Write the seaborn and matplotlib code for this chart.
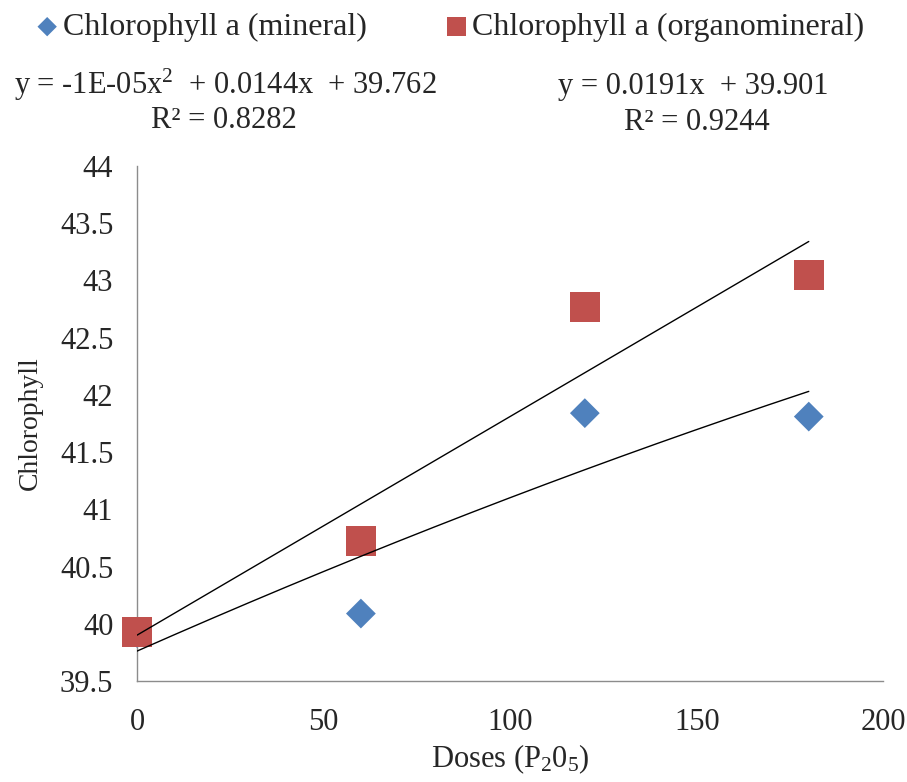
import numpy as np
import pandas as pd
import matplotlib
matplotlib.use("Agg")
import matplotlib.pyplot as plt
import seaborn as sns

# Data
doses = [0, 60, 120, 180]
mineral = [39.92, 40.09, 41.84, 41.81]
organomineral = [39.93, 40.72, 42.77, 43.05]

# Trendline coefficients as printed on the chart
quad_coef = [-1e-05, 0.0144, 39.762]
lin_coef = [0.0191, 39.901]

x_ticks = [0, 50, 100, 150, 200]
y_ticks = [39.5, 40, 40.5, 41, 41.5, 42, 42.5, 43, 43.5, 44]

blue = "#4F81BD"
red = "#C0504D"

sns.set_style("white")
plt.rcParams["font.family"] = ["Liberation Serif", "DejaVu Serif"]
plt.rcParams["mathtext.fontset"] = "custom"
plt.rcParams["mathtext.rm"] = "Liberation Serif"
plt.rcParams["mathtext.it"] = "Liberation Serif:italic"

fig = plt.figure(figsize=(9.07, 7.82), dpi=100)
ax = fig.add_axes([0.151, 0.129, 0.823, 0.659])

df_min = pd.DataFrame({"dose": doses, "chl": mineral})
df_org = pd.DataFrame({"dose": doses, "chl": organomineral})

sns.scatterplot(data=df_min, x="dose", y="chl", ax=ax, marker="D", s=230,
                color=blue, edgecolor="none", zorder=3, clip_on=False,
                label="Chlorophyll a (mineral)")
sns.scatterplot(data=df_org, x="dose", y="chl", ax=ax, marker="s", s=470,
                color=red, edgecolor="none", zorder=4, clip_on=False,
                label="Chlorophyll a (organomineral)")

# Trend lines
xs = np.linspace(0, 180, 200)
trend = pd.DataFrame({
    "x": xs,
    "quad": np.polyval(quad_coef, xs),
    "lin": np.polyval(lin_coef, xs),
})
sns.lineplot(data=trend, x="x", y="quad", ax=ax, color="black", lw=1, zorder=5)
sns.lineplot(data=trend, x="x", y="lin", ax=ax, color="black", lw=1, zorder=5)

ax.set_xlim(0, 200)
ax.set_ylim(39.5, 44)
ax.set_xticks(x_ticks)
ax.set_yticks(y_ticks)
ax.set_xticklabels([str(t) for t in x_ticks])
ax.set_yticklabels([f"{t:g}" for t in y_ticks])
ax.tick_params(axis="both", labelsize=22, length=0)
ax.tick_params(axis="x", pad=19)
ax.tick_params(axis="y", pad=17)

for side in ["top", "right"]:
    ax.spines[side].set_visible(False)
for side in ["left", "bottom"]:
    ax.spines[side].set_color("#8c8c8c")
    ax.spines[side].set_linewidth(1)

ax.set_xlabel("Doses (P$_2$0$_5$)", fontsize=22, labelpad=4)
ax.set_ylabel("Chlorophyll", fontsize=20, labelpad=12)

# Legend on top
handles, labels = ax.get_legend_handles_labels()
ax.legend_.remove()
fig.legend(handles, labels, loc="center", bbox_to_anchor=(0.485, 0.965),
           ncol=2, frameon=False, fontsize=23, handletextpad=-0.5,
           columnspacing=1.8, markerscale=0.65)

# Equations
fig.text(0.248, 0.891, "y = -1E-05x$^2$  + 0.0144x  + 39.762", fontsize=22,
         ha="center", va="center")
fig.text(0.247, 0.846, "R² = 0.8282", fontsize=22, ha="center", va="center")
fig.text(0.764, 0.889, "y = 0.0191x  + 39.901", fontsize=22,
         ha="center", va="center")
fig.text(0.768, 0.843, "R² = 0.9244", fontsize=22, ha="center", va="center")

fig.savefig("out.png", dpi=100)
